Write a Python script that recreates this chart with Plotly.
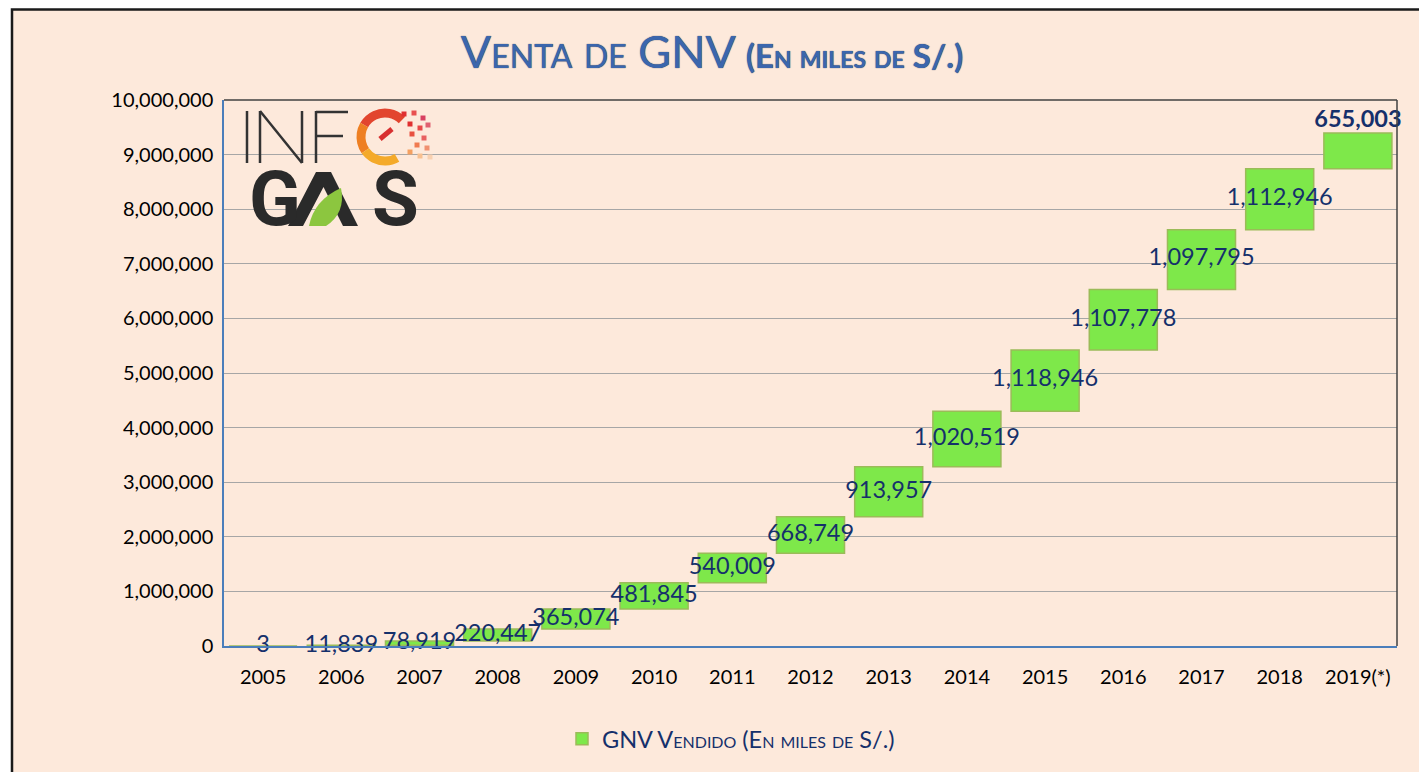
import math
import numpy as np
import plotly.graph_objects as go

years = ["2005", "2006", "2007", "2008", "2009", "2010", "2011", "2012",
         "2013", "2014", "2015", "2016", "2017", "2018", "2019(*)"]
values = [3, 11839, 78919, 220447, 365074, 481845, 540009, 668749,
          913957, 1020519, 1118946, 1107778, 1097795, 1112946, 655003]
y_ticks = list(range(0, 10000001, 1000000))

vals = np.array(values, dtype=float)
base = np.concatenate([[0], np.cumsum(vals)[:-1]])
top = base + vals

W, H = 1427, 772
OFF = 8  # page body margin
# plot area in window pixels
PL, PR, PT, PB = 224, 1397, 100, 646
PW, PH = PR - PL, PB - PT
ML, MT = PL - OFF, PT - OFF
MR, MB = W - (PR - OFF), H - (PB - OFF)


def px(x):
    return (x - PL) / PW


def py(y):
    return (PB - y) / PH


FONT = "Lato"
NAVY = "#15306B"

fig = go.Figure()
fig.add_trace(go.Bar(
    x=years, y=vals, base=base,
    marker=dict(color="#7EE84A", line=dict(color="#9BBB59", width=1.5)),
    name="GNV Vendido (En miles de S/.)",
    width=0.87,
    hoverinfo="skip",
))

label_y = [b + v / 2 for b, v in zip(base, vals)]
label_y[-1] = top[-1]
positions = ["middle center"] * (len(values) - 1) + ["top center"]
texts = [f"{v:,}" for v in values]
texts[-1] = f"<b>{values[-1]:,}</b>"
fig.add_trace(go.Scatter(
    x=years, y=label_y, mode="text", text=texts, textposition=positions,
    textfont=dict(family=FONT, size=23.5, color=NAVY),
    showlegend=False, hoverinfo="skip", cliponaxis=False,
))


def arc_path(cx, cy, r, a0, a1, nseg=3):
    step = (a1 - a0) / nseg
    k = 4 / 3 * math.tan(math.radians(step) / 4)
    a = math.radians(a0)
    x0, y0 = cx + r * math.cos(a), cy - r * math.sin(a)
    d = f"M {px(x0)} {py(y0)}"
    for i in range(nseg):
        t0 = math.radians(a0 + i * step)
        t1 = math.radians(a0 + (i + 1) * step)
        p0 = (cx + r * math.cos(t0), cy - r * math.sin(t0))
        p3 = (cx + r * math.cos(t1), cy - r * math.sin(t1))
        c1 = (p0[0] - k * r * math.sin(t0), p0[1] - k * r * math.cos(t0))
        c2 = (p3[0] + k * r * math.sin(t1), p3[1] + k * r * math.cos(t1))
        d += (f" C {px(c1[0])} {py(c1[1])} {px(c2[0])} {py(c2[1])}"
              f" {px(p3[0])} {py(p3[1])}")
    return d


LOGO_DARK = "#333333"
shapes = [
    # outer frame (peach card with dark border)
    dict(type="rect", xref="paper", yref="paper", layer="below",
         x0=px(12), x1=px(1460), y0=py(800), y1=py(9.5),
         fillcolor="#FDE9DB", line=dict(color="#1A1A1A", width=2.5)),
    # plot border top/right
    dict(type="line", xref="paper", yref="paper", x0=0, x1=1, y0=1, y1=1,
         line=dict(color="#404040", width=1.5)),
    dict(type="line", xref="paper", yref="paper", x0=1, x1=1, y0=0, y1=1,
         line=dict(color="#404040", width=1.5)),
]
# "INF" strokes
for (x0, y0, x1, y1) in [(247, 111, 247, 163), (260, 111, 260, 163),
                         (260, 111, 302, 163), (302, 111, 302, 163),
                         (316, 111, 316, 163), (316, 112, 348, 112),
                         (316, 136, 343, 136)]:
    shapes.append(dict(type="line", xref="paper", yref="paper",
                       x0=px(x0), y0=py(y0), x1=px(x1), y1=py(y1),
                       line=dict(color=LOGO_DARK, width=2.5)))
# ring of the "O"
for a0, a1, col in [(45, 150, "#E2452E"), (150, 215, "#EE7F22"),
                    (215, 300, "#F4AA2A")]:
    shapes.append(dict(type="path", xref="paper", yref="paper",
                       path=arc_path(385, 137, 24, a0, a1),
                       line=dict(color=col, width=9)))
shapes.append(dict(type="line", xref="paper", yref="paper",
                   x0=px(380), x1=px(392), y0=py(139), y1=py(129),
                   line=dict(color="#D83030", width=5)))
for dx, dy, c in [(404, 114, "#E03030"), (414, 113, "#E85050"),
                  (423, 118, "#D84060"), (410, 124, "#E03030"),
                  (420, 128, "#E84848"), (428, 125, "#E06070"),
                  (412, 134, "#E85040"), (424, 138, "#E86060"),
                  (417, 145, "#F07A50"), (427, 148, "#F09070"),
                  (410, 152, "#F5A060"), (420, 156, "#F8C090"),
                  (430, 157, "#F8D0B0")]:
    shapes.append(dict(type="rect", xref="paper", yref="paper",
                       x0=px(dx - 2.5), x1=px(dx + 2.5), y0=py(dy + 2.5),
                       y1=py(dy - 2.5), fillcolor=c, line=dict(width=0)))

# the "A" of GAS (no crossbar) and its green leaf
shapes.append(dict(
    type="path", xref="paper", yref="paper",
    path=(f"M {px(288)} {py(226)} L {px(316)} {py(172)} L {px(331)} {py(172)} "
          f"L {px(358)} {py(226)} L {px(343)} {py(226)} L {px(323.5)} {py(187)} "
          f"L {px(303)} {py(226)} Z"),
    fillcolor="#2A2A2A", line=dict(width=0)))
shapes.append(dict(
    type="path", xref="paper", yref="paper",
    path=(f"M {px(309)} {py(226)} Q {px(314)} {py(200)} {px(341)} {py(188)} "
          f"Q {px(346)} {py(213)} {px(326)} {py(226)} Z"),
    fillcolor="#8CC63F", line=dict(width=0)))

annotations = []
for ch, cx in [("G", 275), ("S", 395)]:
    annotations.append(dict(
        text=f"<b>{ch}</b>", xref="paper", yref="paper", x=px(cx), y=py(199),
        xanchor="center", yanchor="middle", showarrow=False,
        font=dict(family="Roboto", size=76, color="#2A2A2A", weight=900)))

fig.update_layout(
    width=W, height=H,
    margin=dict(l=ML, r=MR, t=MT, b=MB),
    paper_bgcolor="#FFFFFF",
    plot_bgcolor="#FFFFFF",
    font=dict(family=FONT, size=20, color="#000000"),
    title=dict(
        text=("<span style='font-size:45px'>Venta de GNV</span> "
              "<b><span style='font-size:33px'>(En miles de S/.)</span></b>"),
        x=(712 - OFF) / W, xanchor="center", y=1 - (52 - OFF) / H, yanchor="middle",
        font=dict(family=FONT, size=45, color="#3B66AD", variant="small-caps",
                  shadow="0px 0px 1px #102040"),
    ),
    xaxis=dict(
        type="category", categoryorder="array", categoryarray=years,
        range=[-0.5, len(years) - 0.5],
        showline=True, linecolor="#4A7EBB", linewidth=1.5,
        ticks="outside", ticklen=12, tickcolor="rgba(0,0,0,0)",
        tickfont=dict(family=FONT, size=20, color="#000000"),
        showgrid=False,
    ),
    yaxis=dict(
        range=[0, 10000000], tickvals=y_ticks, tickformat=",",
        showline=True, linecolor="#4A7EBB", linewidth=1.5,
        gridcolor="#A6A6A6", gridwidth=1, zeroline=False,
        ticks="outside", ticklen=5, tickcolor="rgba(0,0,0,0)",
        tickfont=dict(family=FONT, size=20, color="#000000"),
    ),
    bargap=0.13,
    showlegend=True,
    legend=dict(
        orientation="h", x=px(731), xanchor="center", y=py(739), yanchor="middle",
        bgcolor="rgba(0,0,0,0)",
        font=dict(family=FONT, size=23.5, color=NAVY, variant="small-caps"),
    ),
    shapes=shapes,
    annotations=annotations,
)

fig.write_html("out.html")
